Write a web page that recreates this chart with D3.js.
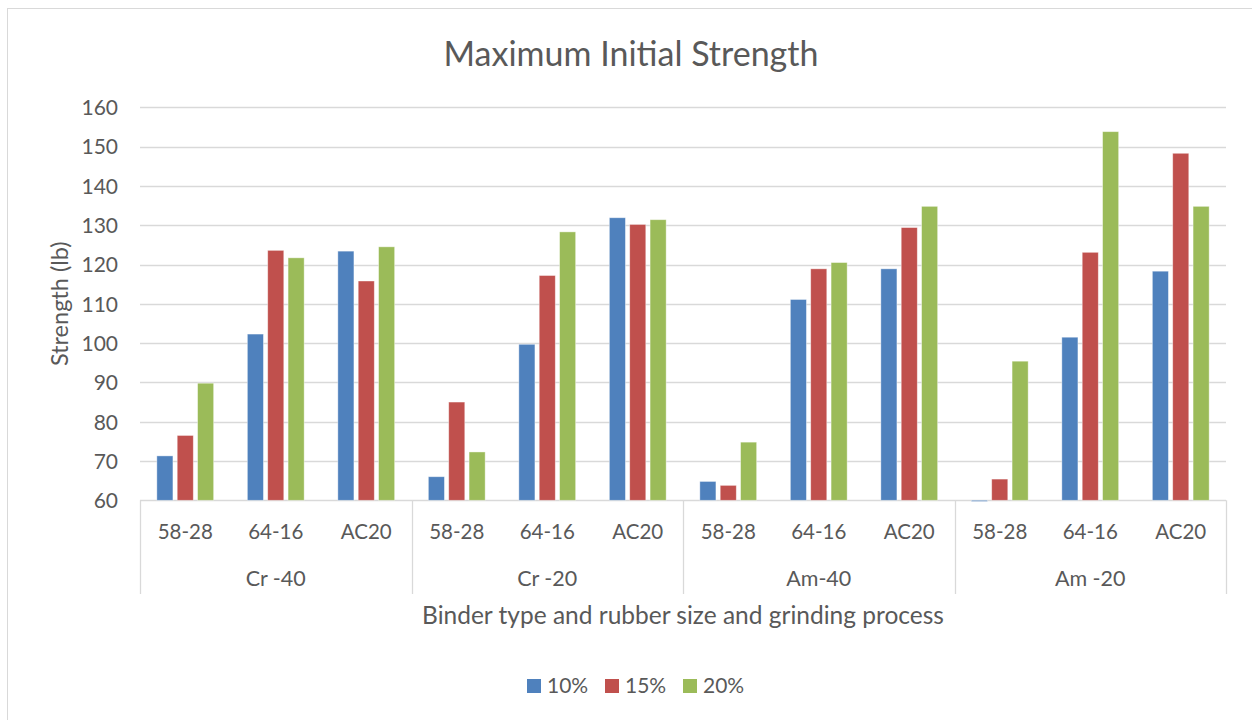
<!DOCTYPE html>
<html>
<head>
<meta charset="utf-8">
<script src="https://cdn.jsdelivr.net/npm/d3@7"></script>
<style>
  html, body { margin: 0; padding: 0; background: #fff; }
  svg { display: block; font-family: Lato, "Open Sans", sans-serif; }
</style>
</head>
<body>
<svg id="chart" width="1252" height="720"></svg>
<script>
// ---- data ----
const groups = ["Cr -40", "Cr -20", "Am-40", "Am -20"];
const binders = ["58-28", "64-16", "AC20"];
const seriesNames = ["10%", "15%", "20%"];
const s10 = [71.3, 102.3, 123.4, 66.0, 99.7, 131.9, 64.8, 111.1, 118.9, 59.7, 101.5, 118.3];
const s15 = [76.5, 123.6, 115.8, 85.0, 117.2, 130.2, 63.8, 118.9, 129.4, 65.4, 123.1, 148.3];
const s20 = [89.8, 121.7, 124.5, 72.3, 128.3, 131.4, 74.8, 120.5, 134.8, 95.4, 153.8, 134.8];
const yTicks = [60, 70, 80, 90, 100, 110, 120, 130, 140, 150, 160];
const colors = ["#4F81BD", "#C0504D", "#9BBB59"];

const title = "Maximum Initial Strength";
const yTitle = "Strength (lb)";
const xTitle = "Binder type and rubber size and grinding process";

// ---- build ----
const cats = [];
groups.forEach((g, gi) => binders.forEach((b, bi) => cats.push({ key: gi + "|" + b, group: g, binder: b })));
const seriesData = [s10, s15, s20];

const svg = d3.select("#chart");
const textColor = "#595959";
const gridColor = "#D9D9D9";

// chart border
svg.append("rect").attr("x", 7.5).attr("y", 8.5).attr("width", 1300).attr("height", 800)
  .attr("fill", "none").attr("stroke", gridColor).attr("stroke-width", 1);

const plot = { left: 140, right: 1226, top: 107.3, bottom: 500.3 };

const y = d3.scaleLinear().domain([60, 160]).range([plot.bottom, plot.top]);
const x0 = d3.scaleBand().domain(cats.map(c => c.key)).range([plot.left, plot.right])
  .paddingInner(0.325).paddingOuter(0.1625);
const x1 = d3.scaleBand().domain(seriesNames).range([0, x0.bandwidth()])
  .paddingInner(0.21).paddingOuter(0.105);
const xg = d3.scaleBand().domain(groups).range([plot.left, plot.right]);

// gridlines
svg.append("g").selectAll("line").data(yTicks).join("line")
  .attr("x1", plot.left).attr("x2", plot.right)
  .attr("y1", d => Math.round(y(d)) + 0.5).attr("y2", d => Math.round(y(d)) + 0.5)
  .attr("stroke", gridColor).attr("stroke-width", 1.3);

// y axis labels
const yAxis = d3.axisLeft(y).tickValues(yTicks).tickSize(0).tickPadding(22);
const yg = svg.append("g").attr("transform", `translate(${plot.left},0)`).call(yAxis);
yg.select(".domain").remove();
yg.selectAll("text").attr("fill", textColor).style("font-size", "21px").style("font-family", "Lato, sans-serif")
  .attr("dy", "0.35em");

// bars
const barG = svg.append("g");
seriesNames.forEach((s, si) => {
  barG.append("g").selectAll("rect").data(seriesData[si]).join("rect")
    .attr("x", (d, i) => x0(cats[i].key) + x1(s))
    .attr("width", x1.bandwidth())
    .attr("y", d => y(Math.max(d, 60)))
    .attr("height", d => Math.max(1, Math.abs(y(d) - y(60))))
    .attr("fill", colors[si])
    .attr("stroke", "#ffffff").attr("stroke-opacity", 0.5).attr("stroke-width", 0.8);
});

// multi-level x axis
const sepBottom = 594;
const sepXs = groups.map(g => xg(g)).concat([plot.right]);
svg.append("g").selectAll("line").data(sepXs).join("line")
  .attr("x1", d => Math.round(d) + 0.5).attr("x2", d => Math.round(d) + 0.5)
  .attr("y1", plot.bottom).attr("y2", sepBottom)
  .attr("stroke", gridColor).attr("stroke-width", 1.3);

svg.append("g").selectAll("text").data(cats).join("text")
  .attr("x", d => x0(d.key) + x0.bandwidth() / 2)
  .attr("y", 532).attr("dy", "0.35em")
  .attr("text-anchor", "middle").attr("fill", textColor).style("font-size", "20.5px")
  .text(d => d.binder);

svg.append("g").selectAll("text").data(groups).join("text")
  .attr("x", d => xg(d) + xg.bandwidth() / 2)
  .attr("y", 578).attr("dy", "0.35em")
  .attr("text-anchor", "middle").attr("fill", textColor).style("font-size", "21.5px")
  .text(d => d);

// titles
svg.append("text").attr("x", 631).attr("y", 54).attr("dy", "0.35em")
  .attr("text-anchor", "middle").attr("fill", textColor).style("font-size", "34px")
  .text(title);

svg.append("text").attr("x", 683).attr("y", 615).attr("dy", "0.35em")
  .attr("text-anchor", "middle").attr("fill", textColor).style("font-size", "24.5px")
  .text(xTitle);

svg.append("text").attr("transform", `translate(60,${(plot.top + plot.bottom) / 2}) rotate(-90)`)
  .attr("dy", "0.35em").attr("text-anchor", "middle").attr("fill", textColor).style("font-size", "23.5px")
  .text(yTitle);

// legend
const legendX = [527, 605, 683];
const lg = svg.append("g").selectAll("g").data(seriesNames).join("g")
  .attr("transform", (d, i) => `translate(${legendX[i]},679)`);
lg.append("rect").attr("width", 14).attr("height", 14).attr("fill", (d, i) => colors[i]);
lg.append("text").attr("x", 20).attr("y", 7).attr("dy", "0.35em").attr("fill", textColor)
  .style("font-size", "21px").text(d => d);
</script>
</body>
</html>
